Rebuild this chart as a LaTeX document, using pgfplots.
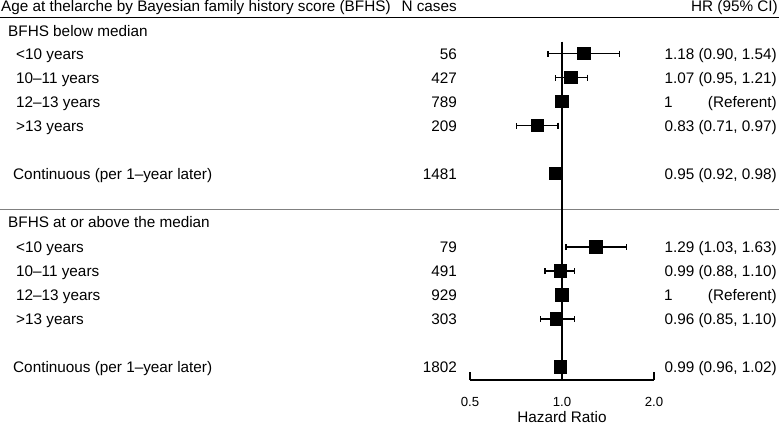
\documentclass[border=0pt]{standalone}
\usepackage{fontspec}
\setmainfont{Liberation Sans}
\usepackage{pgfplots}
\usepackage{pgfplotstable}
\pgfplotsset{compat=1.18}
\definecolor{linegray}{RGB}{128,128,128}

% hazard ratios, errors to the CI limits, row position (px from top, negative)
\pgfplotstableread{
hr   em   ep   y
1.18 0.28 0.36 -53.5
1.07 0.12 0.14 -77.5
1.00 0.00 0.00 -101.5
0.83 0.12 0.14 -125.5
0.95 0.03 0.03 -173.5
1.29 0.26 0.34 -247
0.99 0.11 0.11 -271
1.00 0.00 0.00 -295
0.96 0.11 0.14 -319
0.99 0.03 0.03 -367
}\hrdata

\begin{document}
\begin{tikzpicture}[x=1bp,y=1bp]
\useasboundingbox (0,0) rectangle (779,-424);
\draw[line width=1.3bp] (0,-17.5) -- (779,-17.5);
\draw[line width=1bp, linegray] (0,-209.5) -- (779,-209.5);

\begin{axis}[
    at={(470bp,-380bp)}, anchor=south west,
    scale only axis, width=184bp, height=380bp,
    xmode=log, log basis x=2,
    xmin=0.5, xmax=2, ymin=-380, ymax=0,
    enlargelimits=false,
    axis x line*=bottom, hide y axis,
    xtick={0.5,1,2}, xticklabels={0.5,1.0,2.0}, xminorticks=false,
    tick align=inside, major tick length=8bp,
    every tick/.style={black, line width=1.3bp},
    axis line style={line width=1.3bp},
    xticklabel style={font=\fontsize{13.2bp}{15bp}\selectfont, anchor=base, inner sep=0pt, yshift=-26.5bp},
    xlabel={Hazard Ratio},
    xlabel style={at={(axis description cs:0.5,0)}, anchor=base, inner sep=0pt, yshift=-42bp,
        font=\fontsize{15.3bp}{18bp}\selectfont},
    clip=false,
]
\addplot[black, line width=1.6bp, mark=none] coordinates {(1,-41.5) (1,-380)};

\addplot[
    only marks,
    mark=square*,
    mark size=6.2bp,
    mark options={fill=black, draw=black, line width=0.8bp},
    error bars/.cd,
        x dir=both, x explicit,
        error mark=|,
        error mark options={mark size=3bp, line width=1.2bp, black},
        error bar style={line width=1.2bp, black},
    ]
    table[x=hr, y=y, x error minus=em, x error plus=ep] {\hrdata};
\end{axis}

\begin{scope}[font=\fontsize{15.3bp}{18bp}\selectfont, inner sep=0pt]
% header
\node[anchor=base west] at (1,-11) {Age at thelarche by Bayesian family history score (BFHS)};
\node[anchor=base east] at (457,-11) {N cases};
\node[anchor=base east] at (778,-11) {HR (95\% CI)};

% group 1
\node[anchor=base west] at (8,-36.5) {BFHS below median};
\node[anchor=base west] at (16,-59) {<10 years};
\node[anchor=base west] at (16,-83) {10--11 years};
\node[anchor=base west] at (16,-107) {12--13 years};
\node[anchor=base west] at (16,-131) {>13 years};
\node[anchor=base west] at (13,-179) {Continuous (per 1--year later)};

\node[anchor=base east] at (457,-59) {56};
\node[anchor=base east] at (457,-83) {427};
\node[anchor=base east] at (457,-107) {789};
\node[anchor=base east] at (457,-131) {209};
\node[anchor=base east] at (457,-179) {1481};

\node[anchor=base east] at (777,-59) {1.18 (0.90, 1.54)};
\node[anchor=base east] at (777,-83) {1.07 (0.95, 1.21)};
\node[anchor=base west] at (664,-107) {1};
\node[anchor=base east] at (777,-107) {(Referent)};
\node[anchor=base east] at (777,-131) {0.83 (0.71, 0.97)};
\node[anchor=base east] at (777,-179) {0.95 (0.92, 0.98)};

% group 2
\node[anchor=base west] at (8,-227.5) {BFHS at or above the median};
\node[anchor=base west] at (16,-252.5) {<10 years};
\node[anchor=base west] at (16,-276.5) {10--11 years};
\node[anchor=base west] at (16,-300.5) {12--13 years};
\node[anchor=base west] at (16,-324.5) {>13 years};
\node[anchor=base west] at (13,-372.5) {Continuous (per 1--year later)};

\node[anchor=base east] at (457,-252.5) {79};
\node[anchor=base east] at (457,-276.5) {491};
\node[anchor=base east] at (457,-300.5) {929};
\node[anchor=base east] at (457,-324.5) {303};
\node[anchor=base east] at (457,-372.5) {1802};

\node[anchor=base east] at (777,-252.5) {1.29 (1.03, 1.63)};
\node[anchor=base east] at (777,-276.5) {0.99 (0.88, 1.10)};
\node[anchor=base west] at (664,-300.5) {1};
\node[anchor=base east] at (777,-300.5) {(Referent)};
\node[anchor=base east] at (777,-324.5) {0.96 (0.85, 1.10)};
\node[anchor=base east] at (777,-372.5) {0.99 (0.96, 1.02)};
\end{scope}
\end{tikzpicture}
\end{document}
